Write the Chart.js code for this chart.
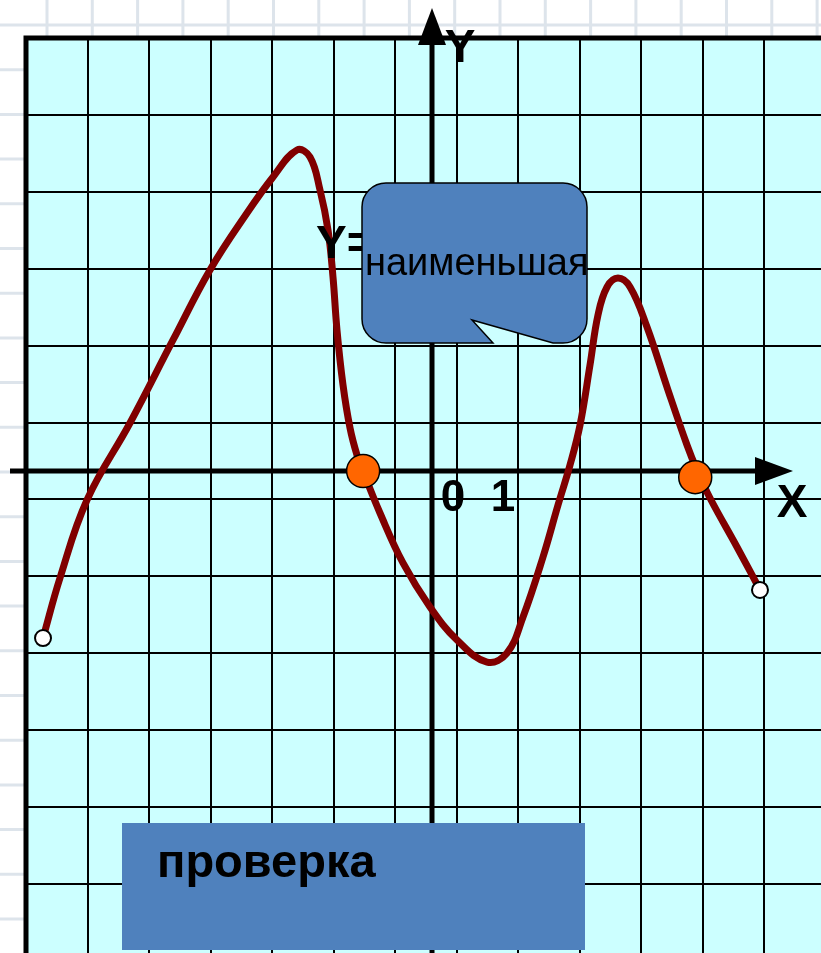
<!DOCTYPE html>
<html>
<head>
<meta charset="utf-8">
<script src="https://cdn.jsdelivr.net/npm/chart.js@4.4.0/dist/chart.umd.min.js"></script>
<style>
  html, body { margin: 0; padding: 0; background: #fff; }
  #wrap { position: relative; width: 821px; height: 953px; }
</style>
</head>
<body>
<div id="wrap"><canvas id="graph"></canvas></div>
<script>
// curve, grid units, origin where the axes cross
var curveX = [-6.325, -6.049, -5.610, -4.911, -4.211, -3.610, -3.008, -2.585, -2.195, -1.984, -1.821, -1.691, -1.610, -1.545, -1.447, -1.333, -1.220, -1.122, -0.846, -0.472, -0.033, 0.407, 0.894, 1.220, 1.480, 1.805, 2.049, 2.244, 2.407, 2.569, 2.699, 2.846, 3.024, 3.220, 3.496, 3.837, 4.146, 4.309, 4.520, 4.959, 5.333];
var curveY = [-2.172, -1.391, -0.377, 0.624, 1.704, 2.614, 3.355, 3.823, 4.174, 4.083, 3.654, 3.134, 2.523, 1.834, 1.118, 0.559, 0.208, 0, -0.546, -1.196, -1.769, -2.198, -2.484, -2.367, -1.899, -1.118, -0.442, 0.078, 0.598, 1.378, 2.029, 2.393, 2.510, 2.393, 1.873, 1.053, 0.338, 0.01, -0.351, -0.988, -1.547];
// open ends of the graph
var endX = [-6.325, 5.333];
var endY = [-2.172, -1.547];
// zeros of the function (orange dots)
var zeroX = [-1.12, 4.28];
var zeroY = [0, -0.08];
// axis numbers
var axisNums = ['0', '1'];
var axisNames = ['X', 'Y'];
var calloutText = 'наименьшая';
var yEqText = 'Y=';
var checkText = 'проверка';

// grid lines are not on the axes in the picture, they sit off by a fraction of a cell
var gridX = [], gridY = [];
for (var i = 0; i < 13; i++) gridX.push(-6.6 + i);
for (var j = 0; j < 12; j++) gridY.push(5.63 - j);

function pts(xs, ys) {
  return xs.map(function (x, k) { return { x: x, y: ys[k] }; });
}

var FONT = '"Liberation Sans", Arial, sans-serif';

var paper = {
  id: 'paper',
  beforeDraw: function (chart) {
    var ctx = chart.ctx, a = chart.chartArea;
    ctx.save();
    ctx.fillStyle = '#ffffff';
    ctx.fillRect(0, 0, chart.width, chart.height);
    // faint squared paper behind
    ctx.strokeStyle = 'rgba(170,188,205,0.4)';
    ctx.lineWidth = 3;
    ctx.beginPath();
    for (var x = 47; x < chart.width; x += 45.3) { ctx.moveTo(x, 0); ctx.lineTo(x, chart.height); }
    for (var y = 25; y < chart.height; y += 44.7) { ctx.moveTo(0, y); ctx.lineTo(chart.width, y); }
    ctx.stroke();
    ctx.fillStyle = '#ccffff';
    ctx.fillRect(a.left, a.top, a.right - a.left, a.bottom - a.top);
    ctx.restore();
  },
  beforeDatasetsDraw: function (chart) {
    var ctx = chart.ctx, a = chart.chartArea;
    var x0 = chart.scales.x.getPixelForValue(0);
    var y0 = chart.scales.y.getPixelForValue(0);
    ctx.save();
    ctx.strokeStyle = '#000';
    ctx.fillStyle = '#000';
    // frame, left and top
    ctx.lineWidth = 5;
    ctx.beginPath();
    ctx.moveTo(a.left, chart.height);
    ctx.lineTo(a.left, a.top);
    ctx.lineTo(chart.width, a.top);
    ctx.stroke();
    // axes
    ctx.lineWidth = 5;
    ctx.beginPath();
    ctx.moveTo(10, y0); ctx.lineTo(760, y0);
    ctx.moveTo(x0, chart.height); ctx.lineTo(x0, 42);
    ctx.stroke();
    ctx.beginPath();
    ctx.moveTo(793, y0); ctx.lineTo(755, y0 - 14); ctx.lineTo(755, y0 + 14); ctx.closePath();
    ctx.fill();
    ctx.beginPath();
    ctx.moveTo(x0, 8); ctx.lineTo(x0 - 14, 45); ctx.lineTo(x0 + 14, 45); ctx.closePath();
    ctx.fill();
    ctx.restore();
  },
  afterDatasetsDraw: function (chart) {
    var ctx = chart.ctx;
    var x0 = chart.scales.x.getPixelForValue(0);
    var y0 = chart.scales.y.getPixelForValue(0);
    ctx.save();
    ctx.fillStyle = '#000';
    ctx.textBaseline = 'alphabetic';
    ctx.font = 'bold 46px ' + FONT;
    ctx.textAlign = 'center';
    ctx.fillText(axisNames[1], x0 + 28, 62);
    ctx.fillText(axisNames[0], 792, y0 + 46);
    ctx.font = 'bold 44px ' + FONT;
    ctx.fillText(axisNums[0], x0 + 21, y0 + 40);
    ctx.fillText(axisNums[1], x0 + 71, y0 + 40);
    ctx.textAlign = 'left';
    ctx.font = 'bold 46px ' + FONT;
    ctx.fillText(yEqText, 316, 258);

    // callout
    var l = 362, t = 183, r = 587, b = 343, rad = 24;
    ctx.beginPath();
    ctx.moveTo(l + rad, t);
    ctx.lineTo(r - rad, t);
    ctx.arcTo(r, t, r, t + rad, rad);
    ctx.lineTo(r, b - rad);
    ctx.arcTo(r, b, r - rad, b, rad);
    ctx.lineTo(553, b);
    ctx.lineTo(472, 320);
    ctx.lineTo(493, b);
    ctx.lineTo(l + rad, b);
    ctx.arcTo(l, b, l, b - rad, rad);
    ctx.lineTo(l, t + rad);
    ctx.arcTo(l, t, l + rad, t, rad);
    ctx.closePath();
    ctx.fillStyle = '#4f81bd';
    ctx.fill();
    ctx.lineWidth = 1.5;
    ctx.strokeStyle = '#000';
    ctx.stroke();
    ctx.fillStyle = '#000';
    ctx.font = '38px ' + FONT;
    ctx.fillText(calloutText, 365, 275);

    // check button
    ctx.fillStyle = '#4f81bd';
    ctx.fillRect(122, 823, 463, 127);
    ctx.fillStyle = '#000';
    ctx.font = 'bold 47px ' + FONT;
    ctx.fillText(checkText, 157, 877);
    ctx.restore();
  }
};

new Chart(document.getElementById('graph'), {
  type: 'scatter',
  data: {
    datasets: [
      {
        data: pts(zeroX, zeroY),
        order: 1,
        pointRadius: 16.5,
        pointBackgroundColor: '#ff6600',
        pointBorderColor: '#000',
        pointBorderWidth: 1.5,
        showLine: false
      },
      {
        data: pts(endX, endY),
        order: 2,
        pointRadius: 8,
        pointBackgroundColor: '#ffffff',
        pointBorderColor: '#000',
        pointBorderWidth: 2,
        showLine: false
      },
      {
        data: pts(curveX, curveY),
        order: 3,
        showLine: true,
        borderColor: '#800000',
        borderWidth: 7,
        borderCapStyle: 'round',
        borderJoinStyle: 'round',
        tension: 0.4,
        pointRadius: 0
      }
    ]
  },
  options: {
    responsive: true,
    maintainAspectRatio: false,
    animation: false,
    events: [],
    layout: { autoPadding: false, padding: { left: 26, top: 38, right: 0, bottom: 0 } },
    plugins: { legend: { display: false }, tooltip: { enabled: false } },
    scales: {
      x: {
        type: 'linear',
        min: -6.6016,
        max: 6.325,
        afterBuildTicks: function (s) { s.ticks = gridX.map(function (v) { return { value: v }; }); },
        ticks: { display: false },
        border: { display: false },
        grid: { color: '#000', lineWidth: 2, drawTicks: false }
      },
      y: {
        type: 'linear',
        min: -6.268,
        max: 5.631,
        afterBuildTicks: function (s) { s.ticks = gridY.map(function (v) { return { value: v }; }); },
        ticks: { display: false },
        border: { display: false },
        grid: { color: '#000', lineWidth: 2, drawTicks: false }
      }
    }
  },
  plugins: [paper]
});
</script>
</body>
</html>
